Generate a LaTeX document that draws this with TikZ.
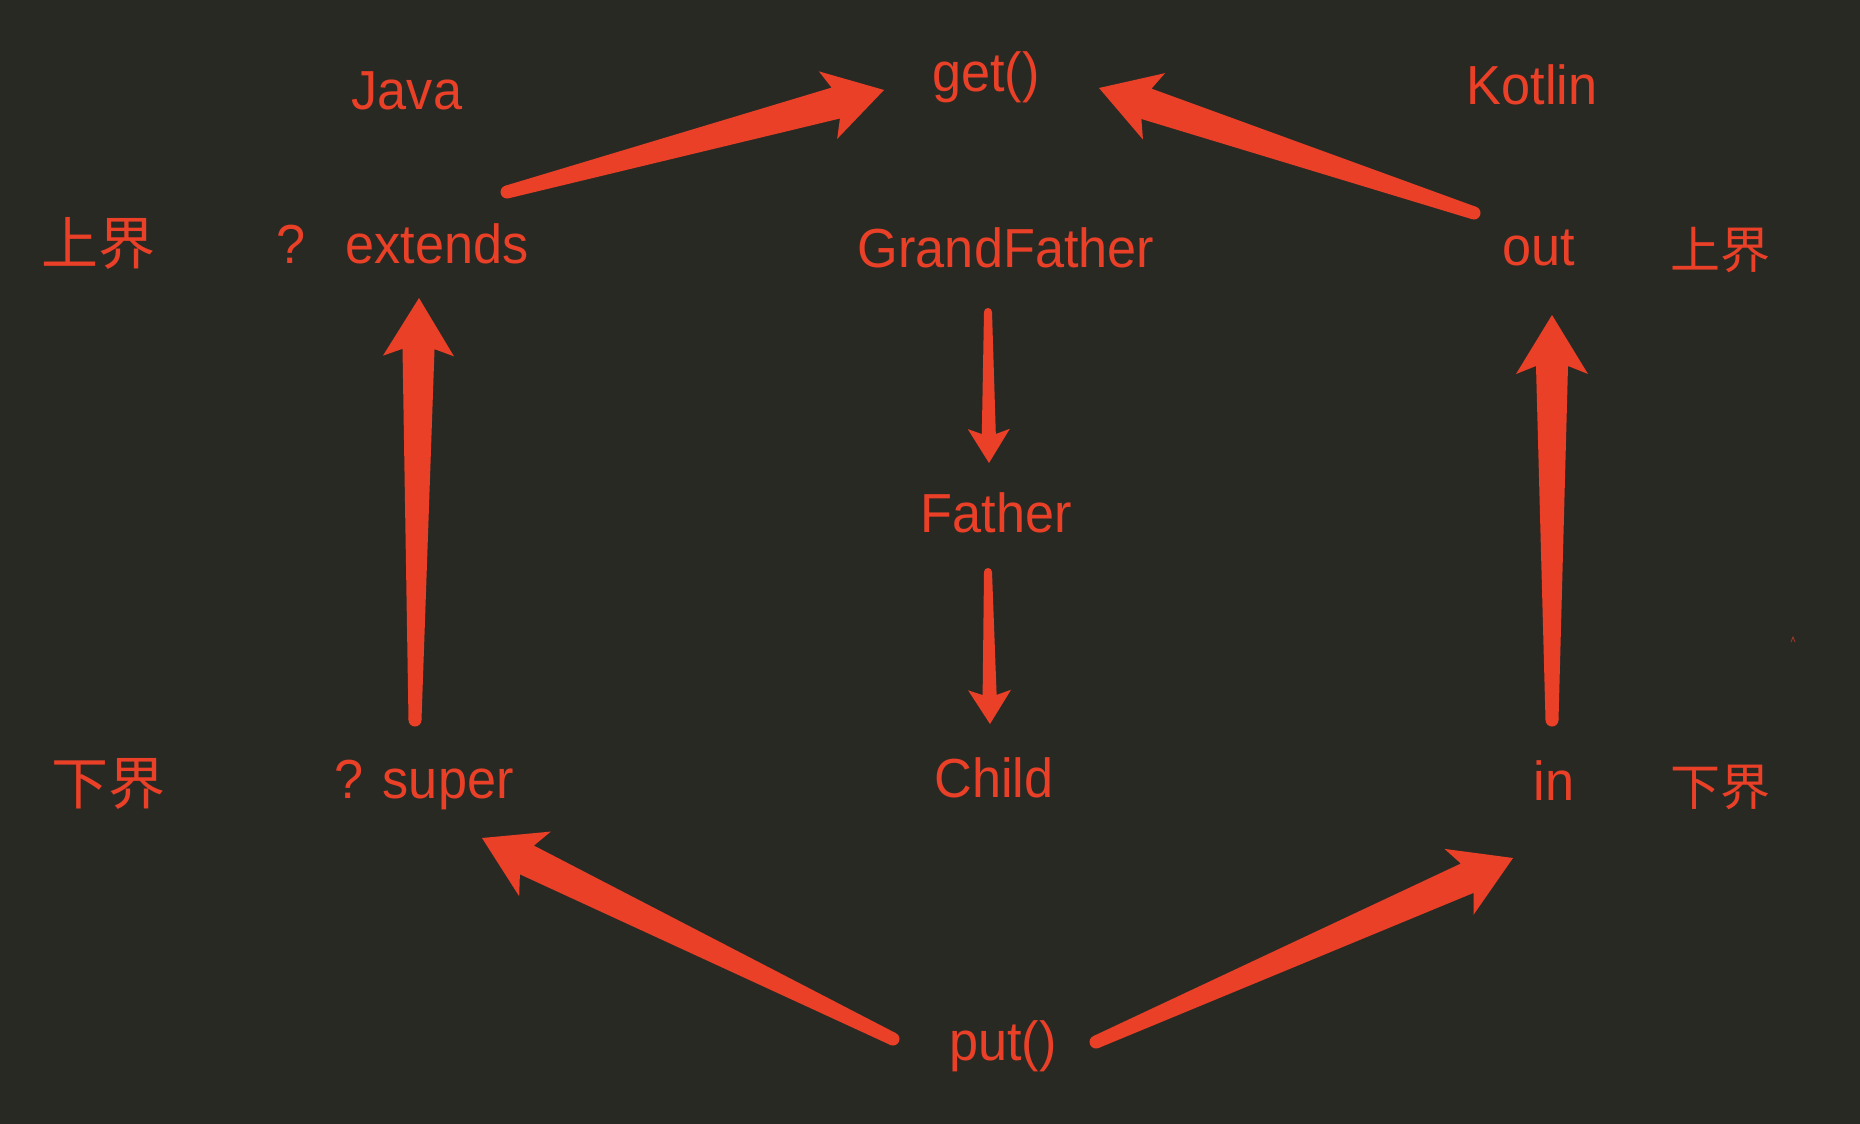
\documentclass[tikz,border=0pt]{standalone}
\usepackage{fontspec}
\setmainfont[FakeStretch=0.95]{Liberation Sans}
\newfontfamily\cjk{Noto Sans CJK SC}
\usetikzlibrary{calc}
\definecolor{bg}{RGB}{41,41,36}
\definecolor{ink}{RGB}{234,64,39}
% tapered arrow: #1 tail, #2 tip, #3 tail half width, #4 shaft half width at head,
% #5 head half width, #6 notch distance from tip, #7 barb distance from tip
\newcommand\taper[7]{%
  \fill[ink] (#1) circle[radius=#3pt];
  \fill[ink] ($(#1)!#3pt!90:(#2)$)
    -- ($(#2)!#6pt!(#1)!#4pt!-90:(#1)$)
    -- ($(#2)!#7pt!(#1)!#5pt!-90:(#1)$)
    -- (#2)
    -- ($(#2)!#7pt!(#1)!#5pt!90:(#1)$)
    -- ($(#2)!#6pt!(#1)!#4pt!90:(#1)$)
    -- ($(#1)!#3pt!-90:(#2)$) -- cycle;}
\tikzset{
  lbl/.style={text=ink, inner sep=0pt, anchor=base, font=\fontsize{55}{60}\selectfont},
  cjkbig/.style={text=ink, inner sep=0pt, anchor=base, font=\cjk\fontsize{57}{60}\selectfont},
  cjksmall/.style={text=ink, inner sep=0pt, anchor=base, font=\cjk\fontsize{50}{55}\selectfont}
}
\begin{document}
\begin{tikzpicture}[x=1pt,y=-1pt]
\fill[bg] (0,0) rectangle (1860,1124);
\useasboundingbox (0,0) rectangle (1860,1124);

% labels
\node[lbl] (java) at (407,109) {Java};
\node[lbl] (get) at (986,91) {get()};
\node[lbl] (kotlin) at (1532,104) {Kotlin};
\node[cjkbig] (ubL) at (98,264) {上界};
\node[lbl] (q) at (291,263) {?};
\node[lbl] (extends) at (437,263) {extends};
\node[lbl] (grand) at (1006,267) {GrandFather};
\node[lbl] (out) at (1539,265) {out};
\node[cjksmall] (ubR) at (1720,268) {上界};
\node[lbl] (father) at (996,532) {Father};
\node[cjkbig] (lbL) at (108,804) {下界};
\node[lbl] (super) at (424,798) {? super};
\node[lbl] (child) at (994,797) {Child};
\node[lbl] (in) at (1554,800) {in};
\node[cjksmall] (lbR) at (1720,805) {下界};
\node[lbl] (put) at (1003,1060) {put()};

% arrow end points
\coordinate (a1s) at (507,192);  \coordinate (a1t) at (884,90);
\coordinate (a2s) at (1474,213); \coordinate (a2t) at (1099,88);
\coordinate (a3s) at (415,720);  \coordinate (a3t) at (419,298);
\coordinate (a4s) at (1552,720); \coordinate (a4t) at (1552,315);
\coordinate (a5s) at (988,312);  \coordinate (a5t) at (989,463);
\coordinate (a6s) at (988,572);  \coordinate (a6t) at (990,724);
\coordinate (a7s) at (893,1039); \coordinate (a7t) at (482,838);
\coordinate (a8s) at (1096,1042);\coordinate (a8t) at (1513,858);

\taper{a1s}{a1t}{6.5}{16}{35}{50}{58}
\taper{a2s}{a2t}{6.5}{16}{35}{50}{58}
\taper{a3s}{a3t}{6.5}{16}{35.5}{51}{58}
\taper{a4s}{a4t}{6.5}{16}{36}{51}{59}
\taper{a5s}{a5t}{4}{7}{21}{29}{34}
\taper{a6s}{a6t}{4}{7}{21.5}{29}{34}
\taper{a7s}{a7t}{6.5}{16}{36}{50}{59}
\taper{a8s}{a8t}{6.5}{16}{36}{50}{59}

% tiny mark
\coordinate (m1) at (1791,642); \coordinate (m2) at (1793,637); \coordinate (m3) at (1795,642);
\draw[ink!60!bg, line width=0.8pt] (m1) -- (m2) -- (m3);
\end{tikzpicture}
\end{document}
